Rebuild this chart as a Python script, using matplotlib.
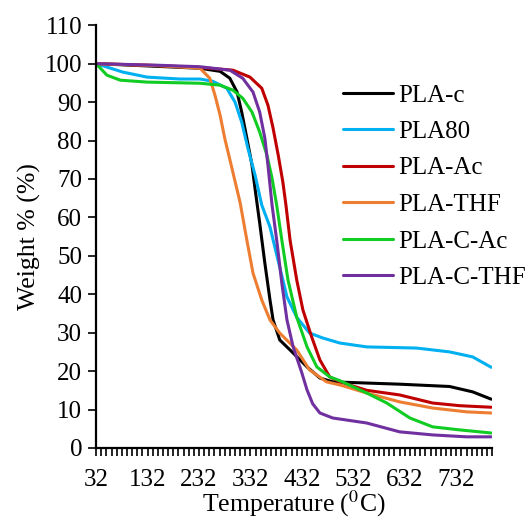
import matplotlib
matplotlib.use("Agg")
import matplotlib.pyplot as plt
import numpy as np

plt.rcParams['font.family'] = ['Liberation Serif', 'DejaVu Serif']
plt.rcParams['mathtext.fontset'] = 'stix'

# TGA curves (temperature in C, weight in %)
pla_c_t = [32, 150, 234, 273, 292, 306, 315, 325, 335, 341, 350, 360, 370, 376, 389, 409, 442, 467, 492, 622, 719, 764, 800]
pla_c_w = [100, 99.3, 98.8, 98, 96.2, 92.6, 87.4, 80.6, 73.6, 67.4, 58.5, 48.1, 38.5, 33.3, 28.1, 25.5, 21.1, 18.2, 17.2, 16.6, 16, 14.6, 12.7]

pla80_t = [32, 84, 131, 195, 234, 259, 286, 302, 315, 327, 341, 354, 370, 389, 403, 422, 447, 473, 506, 558, 655, 719, 764, 800]
pla80_w = [100, 97.8, 96.5, 96, 96, 95.4, 93.6, 90, 84.8, 78, 71, 63.2, 57.5, 47, 39.3, 34, 29.9, 28.6, 27.3, 26.3, 26, 25, 23.7, 21]

pla_ac_t = [32, 150, 234, 298, 331, 354, 366, 376, 386, 395, 401, 409, 422, 434, 451, 467, 486, 506, 558, 622, 686, 739, 800]
pla_ac_w = [100, 99.5, 99, 98.3, 96.5, 93.6, 89.2, 83.2, 76.2, 69.2, 63.2, 54.1, 43.7, 35.9, 28.9, 22.9, 18.5, 17.2, 15, 13.8, 11.7, 11, 10.6]

pla_thf_t = [32, 150, 234, 253, 263, 273, 282, 296, 312, 325, 337, 354, 370, 389, 422, 447, 480, 506, 558, 622, 686, 752, 800]
pla_thf_w = [100, 99.5, 98.8, 96.2, 91.8, 86.6, 80.6, 72.8, 63.8, 54.1, 45.5, 38.5, 33.3, 29.9, 25.5, 20.3, 17.2, 16.4, 14.3, 12, 10.4, 9.4, 9.1]

pla_cac_t = [32, 53, 79, 131, 234, 273, 298, 317, 335, 350, 364, 374, 383, 393, 405, 422, 442, 461, 486, 506, 558, 597, 642, 686, 739, 800]
pla_cac_w = [100, 97, 95.7, 95.2, 94.9, 94.4, 93.1, 91, 87.4, 82.2, 76.2, 70.2, 63.2, 54.1, 43.7, 34, 26.3, 21.1, 18.5, 17.5, 14.3, 11.7, 7.8, 5.5, 4.7, 3.9]

pla_cthf_t = [32, 150, 234, 292, 317, 337, 350, 360, 366, 374, 383, 393, 403, 415, 432, 442, 453, 467, 492, 558, 622, 686, 752, 800]
pla_cthf_w = [100, 99.6, 99.2, 98.3, 96.2, 92.6, 87.4, 80.6, 73.6, 63.2, 54.1, 42.9, 33.3, 26.3, 19.5, 15.1, 11.5, 9.1, 7.8, 6.5, 4.2, 3.4, 2.9, 2.9]

labels = ['PLA-c', 'PLA80', 'PLA-Ac', 'PLA-THF', 'PLA-C-Ac', 'PLA-C-THF']
colors = ['#000000', '#00B0F0', '#C00000', '#ED7D31', '#11CC22', '#7030A0']

series = [(pla_c_t, pla_c_w), (pla80_t, pla80_w), (pla_ac_t, pla_ac_w),
          (pla_thf_t, pla_thf_w), (pla_cac_t, pla_cac_w), (pla_cthf_t, pla_cthf_w)]

fig = plt.figure(figsize=(5.31, 5.20), dpi=100)
ax = fig.add_axes([0.181, 0.1385, 0.746, 0.813])

for (t, w), lab, col in zip(series, labels, colors):
    ax.plot(t, w, color=col, lw=2.2, label=lab, solid_capstyle='round', solid_joinstyle='round')

ax.set_xlim(32, 802)
ax.set_ylim(0, 110)
ax.set_xticks(np.arange(32, 801, 100))
ax.set_xticks(np.arange(32, 803, 10), minor=True)
ax.set_yticks(np.arange(0, 111, 10))
ax.tick_params(axis='both', which='both', direction='out', length=6, width=1.2, labelsize=18)
ax.tick_params(axis='x', which='major', pad=9)
ax.tick_params(axis='y', pad=4)

for s in ['top', 'right']:
    ax.spines[s].set_visible(False)
for s in ['left', 'bottom']:
    ax.spines[s].set_linewidth(1.6)

ax.set_xlabel('Temperature (${}^{0}$C)', fontsize=18.5, labelpad=-1.5)
ax.set_ylabel('Weight % (%)', fontsize=18.5, labelpad=3)

leg = ax.legend(loc='upper left', bbox_to_anchor=(343 / 531, 1 - 84 / 520),
                bbox_transform=fig.transFigure, frameon=False, fontsize=18,
                handlelength=2.0, handletextpad=0.2, labelspacing=0.56,
                borderpad=0, borderaxespad=0)

fig.savefig('out.png', dpi=100)
